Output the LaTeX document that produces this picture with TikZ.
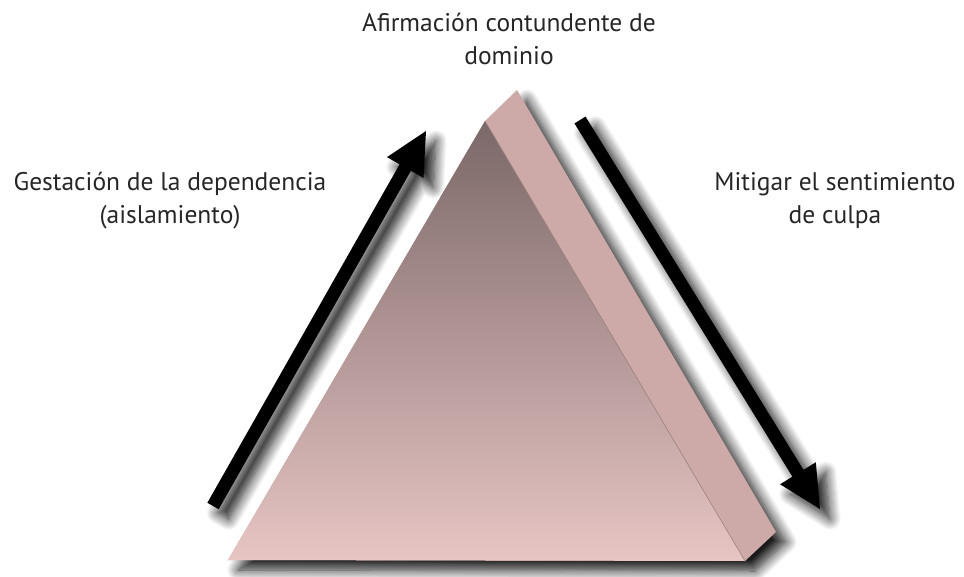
\documentclass[tikz,border=0pt]{standalone}
\usepackage{fontspec}
\setmainfont{PT Sans}
\usepackage{tikz}
\usetikzlibrary{calc}
\usetikzlibrary{shadows.blur}

\definecolor{facetop}{HTML}{7B6868}
\definecolor{facemid}{HTML}{B39897}
\definecolor{facebot}{HTML}{E7C5C3}
\definecolor{sideface}{HTML}{CDA9A7}
\definecolor{labeltext}{HTML}{262626}

\begin{document}
\begin{tikzpicture}[x=1pt, y=-1pt,
    label/.style={align=center, text=labeltext, font=\fontsize{25.5}{33}\selectfont},
    softshadow/.style={blur shadow={shadow xshift=10pt, shadow yshift=-10pt, shadow blur radius=11pt, shadow blur steps=12, shadow opacity=90}}]
    \useasboundingbox (0,0) rectangle (964,577);

    % pyramid: side face carries the shadow, front face shaded on top
    \fill[sideface, softshadow] (228,560) -- (485,121) -- (517,90) -- (776,532) -- (745,561) -- cycle;
    \shade[top color=facetop, middle color=facemid, bottom color=facebot] (228,560) -- (485,121) -- (745,561) -- cycle;
    \draw[facetop!60!sideface, line width=0.6pt] (485,121) -- (745,561);

    % the two fat arrows
    \coordinate (ls) at (213,506);
    \coordinate (lt) at (426,131);
    \coordinate (rs) at (580,120);
    \coordinate (rt) at (820,509);
    \foreach \s/\t in {ls/lt, rs/rt} {
        \coordinate (b) at ($(\t)!42pt!(\s)$);
        \fill[black, softshadow] ($(\s)!6.5pt!90:(\t)$) -- ($(b)!6.5pt!90:(\t)$) -- ($(b)!21pt!90:(\t)$) -- (\t)
            -- ($(b)!21pt!-90:(\t)$) -- ($(b)!6.5pt!-90:(\t)$) -- ($(\s)!6.5pt!-90:(\t)$) -- cycle;
    }

    \node[label] (dominio) at (509,39) {Afirmación contundente de\\dominio};
    \node[label] (gestacion) at (170,201) {Gestación de la dependencia\\(aislamiento)};
    \node[label] (mitigar) at (835,201) {Mitigar el sentimiento\\de culpa};
\end{tikzpicture}
\end{document}
